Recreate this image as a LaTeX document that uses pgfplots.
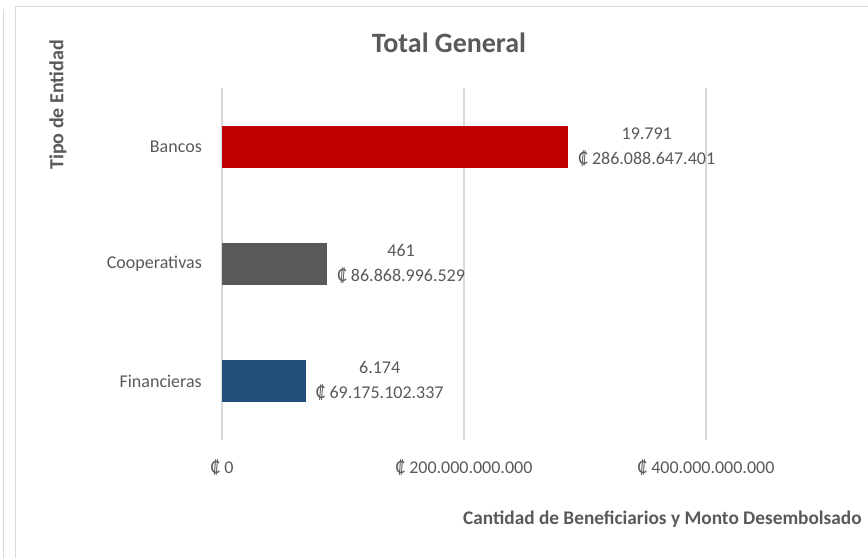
\documentclass[border=0pt]{standalone}
\usepackage{fontspec}
\setmainfont{Carlito}
\usepackage{pgfplots}
\pgfplotsset{compat=1.18}
\definecolor{txt}{HTML}{595959}
\definecolor{gridc}{HTML}{D9D9D9}
\definecolor{bred}{HTML}{C00000}
\definecolor{bgray}{HTML}{595959}
\definecolor{bblue}{HTML}{1F4E79}
\setlength{\tabcolsep}{0pt}
\begin{document}
\begin{tikzpicture}[x=1pt,y=1pt]
\useasboundingbox (0,0) rectangle (868,558);
\clip (0,0) rectangle (868,558);
\draw[gridc, line width=1.8pt] (3.5,0) -- (3.5,549);
\draw[gridc, line width=1.8pt] (15.5,0) -- (15.5,551.5) -- (870,551.5);
\begin{axis}[at={(222pt,118pt)}, anchor=south west, scale only axis,
  width=646pt, height=352pt,
  xmin=0, xmax=533.9e9, ymin=-0.5, ymax=2.5,
  axis line style={draw=none},
  xmajorgrids, major grid style={gridc, line width=1.4pt},
  major tick length=0pt,
  xtick={0,2e11,4e11},
  xticklabels={₡ 0,₡ 200.000.000.000,₡ 400.000.000.000},
  ytick={0,1,2}, yticklabels={Financieras,Cooperativas,Bancos},
  ticklabel style={font=\fontsize{18}{21}\selectfont, text=txt},
  xticklabel style={anchor=base, inner sep=0pt, yshift=-33pt},
  yticklabel style={anchor=east, inner sep=0pt, xshift=-20pt},
  scaled x ticks=false,
  every node near coord/.append style={anchor=west, inner sep=0pt, xshift=10pt,
    font=\fontsize{18}{25}\selectfont, text=txt},
]
\addplot[xbar, bar width=42pt, bar shift=0pt, fill=bred, draw=none,
  nodes near coords={\begin{tabular}{c}19.791\\₡ 286.088.647.401\end{tabular}}]
  coordinates {(286088647401,2)};
\addplot[xbar, bar width=42pt, bar shift=0pt, fill=bgray, draw=none,
  nodes near coords={\begin{tabular}{c}461\\₡ 86.868.996.529\end{tabular}}]
  coordinates {(86868996529,1)};
\addplot[xbar, bar width=42pt, bar shift=0pt, fill=bblue, draw=none,
  nodes near coords={\begin{tabular}{c}6.174\\₡ 69.175.102.337\end{tabular}}]
  coordinates {(69175102337,0)};
\end{axis}
\node[font=\fontsize{28}{32}\selectfont\bfseries, text=txt, anchor=base] at (449,505) {Total General};
\node[rotate=90, font=\fontsize{20}{24}\selectfont\bfseries, text=txt] at (58,453) {Tipo de Entidad};
\node[anchor=base west, inner sep=0pt, font=\fontsize{19.3}{24}\selectfont\bfseries, text=txt] at (463,34) {Cantidad de Beneficiarios y Monto Desembolsado};
\end{tikzpicture}
\end{document}
